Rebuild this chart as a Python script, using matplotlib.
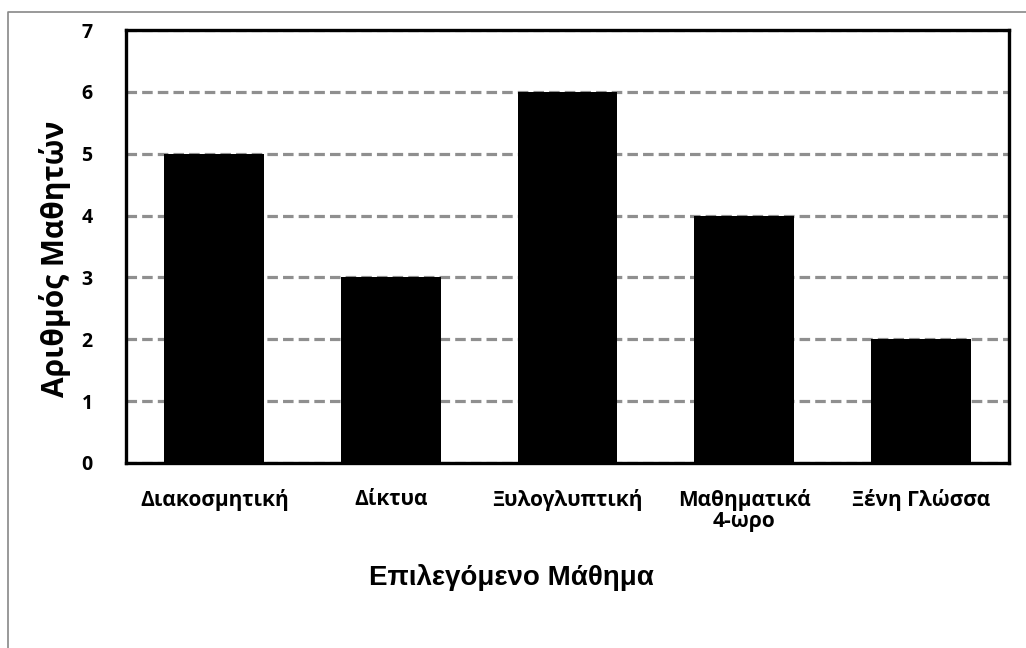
import numpy as np
import matplotlib.pyplot as plt
from matplotlib import font_manager as fm

subjects = ["Διακοσμητική", "Δίκτυα", "Ξυλογλυπτική", "Μαθηματικά\n4-ωρο", "Ξένη Γλώσσα"]
students = [5, 3, 6, 4, 2]
yticks = [0, 1, 2, 3, 4, 5, 6, 7]

# point straight at the bold files so the weight cannot get lost
sans_bold = fm.findfont(fm.FontProperties(family="Open Sans", weight="bold"))
arial_bold = fm.findfont(fm.FontProperties(family="Liberation Sans", weight="bold"))
xtick_font = fm.FontProperties(fname=sans_bold, size=15)
ytick_font = fm.FontProperties(fname=sans_bold, size=14)
xlabel_font = fm.FontProperties(fname=arial_bold, size=20)
ylabel_font = fm.FontProperties(fname=sans_bold, size=21.5)

fig = plt.figure(figsize=(10.26, 6.48), dpi=100)
ax = fig.add_axes([0.1228, 0.2855, 0.8606, 0.6682])

x = np.arange(len(subjects))
ax.bar(x, students, width=0.565, color="black", zorder=3)

ax.set_xlim(-0.5, len(subjects) - 0.5)
ax.set_ylim(0, 7)
ax.tick_params(length=0)
ax.tick_params(axis="x", pad=18.5)
ax.tick_params(axis="y", pad=24)
ax.set_yticks(yticks)
ax.set_xticks(x)
ax.set_xticklabels(subjects, linespacing=1.05)
ax.set_yticklabels([str(v) for v in yticks])
for lab in ax.get_xticklabels():
    lab.set_fontproperties(xtick_font)
for lab in ax.get_yticklabels():
    lab.set_fontproperties(ytick_font)

ax.yaxis.grid(True, color="#8f8f8f", linestyle=(0, (3.3, 1.6)), linewidth=2.3, zorder=1)
for s in ax.spines.values():
    s.set_linewidth(2.4)
    s.set_color("black")

ax.set_xlabel("Επιλεγόμενο Μάθημα", fontproperties=xlabel_font)
ax.set_ylabel("Αριθμός Μαθητών", fontproperties=ylabel_font)
ax.xaxis.set_label_coords(0.437, -0.233)
ax.yaxis.set_label_coords(-0.062, 0.471)

# outer border of the chart area
fig.add_artist(plt.Line2D([0.0078, 0.0078, 1.0], [0.0, 0.9815, 0.9815], color="#888888", linewidth=1.2, transform=fig.transFigure))

fig.savefig("out.png", dpi=100)
